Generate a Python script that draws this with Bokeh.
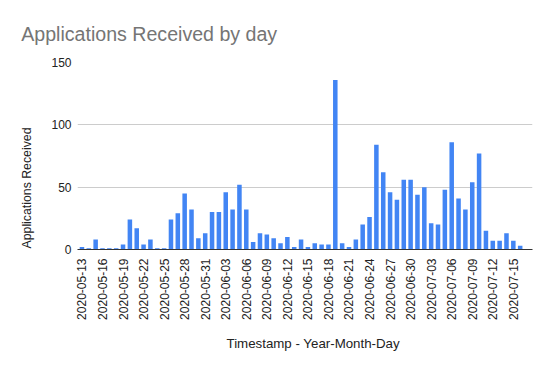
import math
import pandas as pd
from bokeh.plotting import figure
from bokeh.models import Range1d, FixedTicker, Title, ColumnDataSource
from bokeh.embed import file_html
from bokeh.resources import INLINE

# ---- data ----
start_date = "2020-05-13"
counts = [
    # May 13-31
    2, 1, 8, 1, 1, 1, 4, 24, 17, 4, 8, 1, 1, 24, 29, 45, 32, 9, 13,
    # June 1-30
    30, 30, 46, 32, 52, 32, 6, 13, 12, 9, 5, 10, 2, 8, 2, 5, 4, 4, 136, 5,
    2, 8, 20, 26, 84, 62, 46, 40, 56, 56,
    # July 1-16
    44, 50, 21, 20, 48, 86, 41, 32, 54, 77, 15, 7, 7, 13, 7, 3,
]
dates = [d.strftime("%Y-%m-%d") for d in pd.date_range(start_date, periods=len(counts), freq="D")]
tick_step = 3
y_ticks = [0, 50, 100, 150]

title_text = "Applications Received by day"
x_title = "Timestamp - Year-Month-Day"
y_title = "Applications Received"

FONT = "Liberation Sans"
TXT = "#222222"

idx = list(range(len(counts)))
source = ColumnDataSource(dict(x=idx, top=counts, date=dates))

W, H = 550, 370
FL, FR, FT, FB = 77, 532, 62, 249   # frame edges in canvas pixels
p = figure(width=W, height=H, output_backend="svg", toolbar_location=None,
           x_range=Range1d(-0.65, 65.8), y_range=Range1d(0, 150),
           min_border_left=FL, min_border_right=W - FR,
           min_border_top=FT, min_border_bottom=H - FB)
p.outline_line_color = None
p.background_fill_color = "white"
p.border_fill_color = "white"

p.vbar(x="x", top="top", bottom=0, width=0.66, source=source,
       fill_color="#4285F4", line_color=None)

# grid
p.xgrid.grid_line_color = None
p.ygrid.grid_line_color = "#cccccc"
p.ygrid.grid_line_width = 1

# y axis
p.yaxis.ticker = FixedTicker(ticks=y_ticks)
p.yaxis.axis_line_color = None
p.yaxis.major_tick_line_color = None
p.yaxis.major_tick_out = 0
p.yaxis.major_tick_in = 0
p.yaxis.minor_tick_line_color = None
p.yaxis.minor_tick_out = 0
p.yaxis.major_label_standoff = 6
p.yaxis.major_label_text_font = FONT
p.yaxis.major_label_text_font_size = "12px"
p.yaxis.major_label_text_color = TXT

# x axis
tick_pos = idx[::tick_step]
p.xaxis.ticker = FixedTicker(ticks=tick_pos)
p.xaxis.major_label_overrides = {i: dates[i] for i in tick_pos}
p.xaxis.major_label_orientation = math.pi / 2
p.xaxis.axis_line_color = "#333333"
p.xaxis.axis_line_width = 1
p.xaxis.major_tick_line_color = None
p.xaxis.major_tick_out = 0
p.xaxis.major_tick_in = 0
p.xaxis.minor_tick_line_color = None
p.xaxis.minor_tick_out = 0
p.xaxis.major_label_standoff = 9
p.xaxis.major_label_text_font = FONT
p.xaxis.major_label_text_font_size = "12px"
p.xaxis.major_label_text_color = TXT

# titles
p.title = Title(text=title_text, align="left", offset=20.7 - FL, standoff=36,
                text_font=FONT, text_font_size="19.6px", text_font_style="normal",
                text_color="#757575", vertical_align="bottom")
p.add_layout(Title(text=x_title, align="left", offset=149, standoff=26,
                   text_font=FONT, text_font_size="13.3px", text_font_style="normal",
                   text_color=TXT, vertical_align="top"), "below")
p.add_layout(Title(text=y_title, align="left", offset=1, standoff=30,
                   text_font=FONT, text_font_size="12.3px", text_font_style="normal",
                   text_color=TXT, vertical_align="bottom"), "left")

open("out.html", "w").write(file_html(p, INLINE))
